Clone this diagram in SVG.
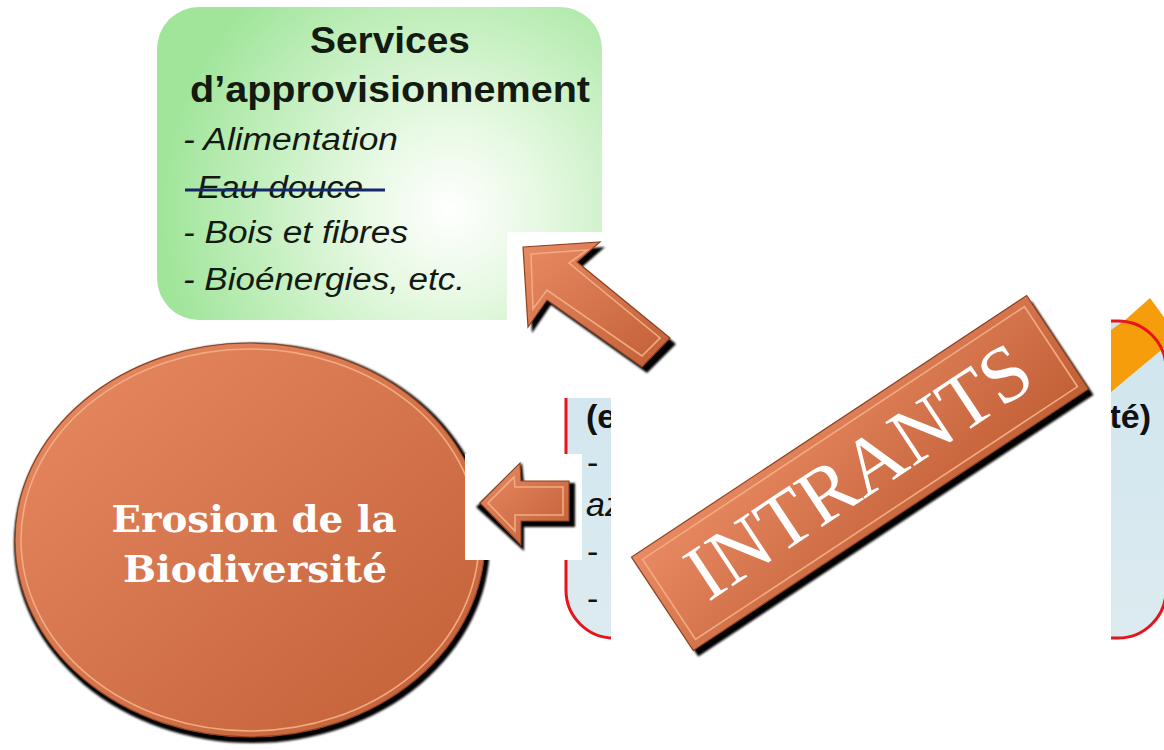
<svg xmlns="http://www.w3.org/2000/svg" width="1164" height="750" viewBox="0 0 1164 750">
<style>
.sans{font-family:"Liberation Sans",Arial,sans-serif;fill:#121a12}
.title{font-weight:bold;font-size:36px}
.item{font-style:italic;font-size:31px}
.blue{font-size:34px;fill:#111}
.circ{font-family:"DejaVu Serif","Liberation Serif",serif;font-weight:bold;font-size:37px;fill:#fff}
.intr{font-family:"Liberation Serif","Times New Roman",serif;font-size:80px;fill:#fff}
.shadow{fill:#000;filter:url(#blur)}
.copper{fill:url(#gCopper);stroke:#8c421f;stroke-width:1.2}
.inner{fill:none;stroke:#f2ab82;stroke-width:1.6}
</style>
<defs>
<radialGradient id="gGreen" cx="450" cy="210" r="290" gradientUnits="userSpaceOnUse">
<stop offset="0" stop-color="#ffffff"/>
<stop offset="0.3" stop-color="#e8f9e4"/>
<stop offset="1" stop-color="#a0e59a"/>
</radialGradient>
<linearGradient id="gCopper" x1="0" y1="0" x2="1" y2="1">
<stop offset="0" stop-color="#e88a63"/>
<stop offset="1" stop-color="#c15f36"/>
</linearGradient>
<linearGradient id="gBlue" x1="0" y1="0" x2="0" y2="1">
<stop offset="0" stop-color="#d0e5ee"/>
<stop offset="1" stop-color="#dcebf0"/>
</linearGradient>
<filter id="blur" x="-10%" y="-10%" width="120%" height="120%"><feGaussianBlur stdDeviation="1.3"/></filter>
<clipPath id="clipL"><rect x="560" y="398" width="51" height="245"/></clipPath>
<clipPath id="clipR"><rect x="1111" y="280" width="60" height="370"/></clipPath>
</defs>

<rect width="1164" height="750" fill="#fff"/>

<g id="services-approvisionnement">
<rect x="157" y="7" width="445" height="313" rx="42" fill="url(#gGreen)"/>
<text class="sans title" x="390" y="53" text-anchor="middle" textLength="160" lengthAdjust="spacingAndGlyphs">Services</text>
<text class="sans title" x="390" y="102" text-anchor="middle" textLength="400" lengthAdjust="spacingAndGlyphs">d’approvisionnement</text>
<text class="sans item" x="183" y="150" textLength="215" lengthAdjust="spacingAndGlyphs">- Alimentation</text>
<text class="sans item" x="197" y="198" textLength="166" lengthAdjust="spacingAndGlyphs">Eau douce</text>
<line x1="185" y1="190" x2="385" y2="190" stroke="#14286a" stroke-width="3"/>
<text class="sans item" x="183" y="243" textLength="225" lengthAdjust="spacingAndGlyphs">- Bois et fibres</text>
<text class="sans item" x="183" y="290" textLength="282" lengthAdjust="spacingAndGlyphs">- Bioénergies, etc.</text>
</g>

<g id="intrants-box">
<rect x="566" y="321" width="600" height="317" rx="48" fill="url(#gBlue)"/>
<polygon points="1124,321 1150,298 1166,320 1166,346 1111,392 1111,330" fill="#f59d0a"/>
<rect x="566" y="321" width="600" height="317" rx="48" fill="none" stroke="#e8141c" stroke-width="3"/>
<rect x="611" y="285" width="500" height="362" fill="#fff"/>
<rect x="540" y="285" width="72" height="113" fill="#fff"/>
<g clip-path="url(#clipL)">
<text class="sans blue" x="586" y="428" font-weight="bold">(e</text>
<text class="sans blue" x="587" y="474">- </text>
<text class="sans blue" x="586" y="516" font-style="italic">az</text>
<text class="sans blue" x="587" y="563">-</text>
<text class="sans blue" x="587" y="610">-</text>
</g>
<g clip-path="url(#clipR)">
<text class="sans blue" x="1151" y="428" font-weight="bold" text-anchor="end">té)</text>
</g>
</g>

<g id="erosion-biodiversite">
<ellipse class="shadow" cx="252" cy="543" rx="238" ry="200"/>
<ellipse class="copper" cx="250" cy="540" rx="235" ry="197"/>
<ellipse class="inner" cx="250" cy="540" rx="229" ry="191"/>
<text class="circ" x="254" y="532" text-anchor="middle" textLength="285" lengthAdjust="spacingAndGlyphs">Erosion de la</text>
<text class="circ" x="255" y="582" text-anchor="middle" textLength="264" lengthAdjust="spacingAndGlyphs">Biodiversité</text>
</g>

<g id="intrants-banner">
<rect class="shadow" transform="translate(865 479) rotate(-33.5)" x="-237" y="-56" width="474" height="112"/>
<g transform="translate(860 473) rotate(-33.5)">
<rect class="copper" x="-237" y="-56" width="474" height="112"/>
<rect class="inner" x="-229" y="-48" width="458" height="96"/>
<text class="intr" x="0" y="24" text-anchor="middle">INTRANTS</text>
</g>
</g>

<g id="connectors">
<g id="arrow-to-services">
<rect x="507" y="232" width="105" height="95" fill="#fff"/>
<polygon class="shadow" points="527,252 605,247 582,267 676,344 647,373 551,305 532,333"/>
<polygon class="copper" points="523,247 600,242 577,262 670,338 642,367 547,300 528,327"/>
<polygon class="inner" points="531,254 587,250 569,263 660,338 642,356 547,290 533,309"/>
</g>
<g id="arrow-to-erosion">
<rect x="465" y="454" width="117" height="106" fill="#fff"/>
<polygon class="shadow" points="476,507 522,463 524,483 575,483 575,527 524,527 524,551"/>
<polygon class="copper" points="480,503 520,463 521,481 569,481 569,521 521,521 521,545"/>
<polygon class="inner" points="488,503 514,477 515,487 563,487 563,515 515,515 515,531"/>
</g>
</g>
</svg>
